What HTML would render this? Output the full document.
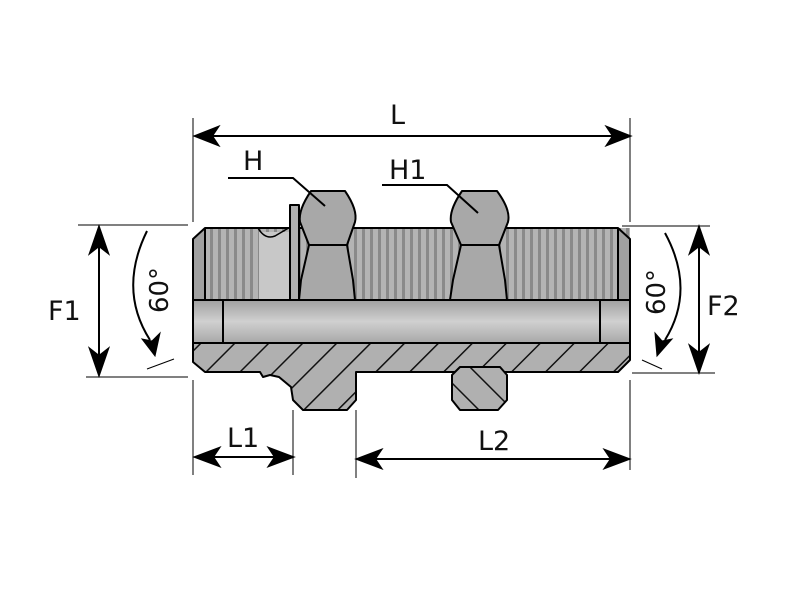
<!DOCTYPE html>
<html><head><meta charset="utf-8"><style>
html,body{margin:0;padding:0;background:#fff;}
svg{display:block;}
text{font-family:"DejaVu Sans","Liberation Sans",sans-serif;fill:#111;}
</style></head><body>
<svg width="800" height="600" viewBox="0 0 800 600" xmlns="http://www.w3.org/2000/svg">
<defs>
<pattern id="thp" width="8" height="10" patternUnits="userSpaceOnUse">
<rect width="8" height="10" fill="#b4b4b4"/><rect x="2" width="3" height="10" fill="#8a8a8a"/>
</pattern>
<pattern id="hatch" width="24" height="24" patternUnits="userSpaceOnUse" patternTransform="rotate(45)">
<rect width="24" height="24" fill="#b0b0b0"/><line x1="0" y1="0" x2="0" y2="24" stroke="#111" stroke-width="3"/>
</pattern>
<pattern id="hatch2" width="24" height="24" patternUnits="userSpaceOnUse" patternTransform="rotate(-45)">
<rect width="24" height="24" fill="#b0b0b0"/><line x1="0" y1="0" x2="0" y2="24" stroke="#111" stroke-width="3"/>
</pattern>
<linearGradient id="bore" x1="0" x2="0" y1="0" y2="1">
<stop offset="0" stop-color="#a0a0a0"/><stop offset="0.5" stop-color="#d0d0d0"/><stop offset="1" stop-color="#a8a8a8"/>
</linearGradient>
</defs>
<g stroke="#000" stroke-width="2" stroke-linejoin="round">
<rect x="205" y="228" width="425" height="72" fill="url(#thp)" stroke="none"/>
<polygon points="205,228 193,239 193,300 205,300" fill="#a0a0a0"/>
<polygon points="618,228 630,239 630,300 618,300" fill="#a0a0a0"/>
<line x1="205" y1="228" x2="618" y2="228"/>
<line x1="205" y1="228" x2="205" y2="300" stroke-width="1.5"/>
<line x1="618" y1="228" x2="618" y2="300" stroke-width="1.5"/>
<rect x="259" y="232" width="34" height="68" fill="#c8c8c8" stroke="none"/>
<path d="M258,228 Q265,240 275,236 L292,226 L292,300" fill="none" stroke-width="1.5"/>
<rect x="290" y="205" width="9" height="95" fill="#b0b0b0"/>
<rect x="193" y="300" width="437" height="43" fill="url(#bore)"/>
<line x1="223" y1="300" x2="223" y2="343"/>
<line x1="600" y1="300" x2="600" y2="343"/>
<path d="M193,343 L630,343 L630,360 L618,372 L507,372 L507,372 L452,372 L356,372 L356,400 L347,410 L303,410 L293,400 L291,387 L279,377 L270,375 L263,377 L260,372 L205,372 L193,362 Z" fill="url(#hatch)"/>
<polygon points="460,367 500,367 507,375 507,400 498,410 460,410 452,400 452,375" fill="url(#hatch2)"/>
<g fill="#a8a8a8">
<path d="M311,191 L345,191 Q358,210 355,222 L347,245 L309,245 L300,222 Q298,210 311,191 Z"/>
<path d="M309,245 L347,245 L353,280 L355,300 L299,300 L301,280 Z"/>
<path d="M462,191 L497,191 Q511,210 508,222 L499,245 L461,245 L451,222 Q449,210 462,191 Z"/>
<path d="M461,245 L499,245 L505,280 L507,300 L450,300 L453,280 Z"/>
</g>
</g>
<g stroke="#000" fill="none">
<line x1="193" y1="118" x2="193" y2="222" stroke-width="1"/>
<line x1="193" y1="380" x2="193" y2="475" stroke-width="1"/>
<line x1="630" y1="118" x2="630" y2="222" stroke-width="1"/>
<line x1="630" y1="380" x2="630" y2="470" stroke-width="1"/>
<line x1="293" y1="410" x2="293" y2="475" stroke-width="1"/>
<line x1="356" y1="410" x2="356" y2="478" stroke-width="1"/>
<line x1="78" y1="225" x2="188" y2="225" stroke-width="1"/>
<line x1="86" y1="377" x2="188" y2="377" stroke-width="1"/>
<line x1="622" y1="226" x2="710" y2="226" stroke-width="1"/>
<line x1="632" y1="373" x2="715" y2="373" stroke-width="1"/>
<g stroke-width="2">
<line x1="212" y1="136" x2="614" y2="136"/>
<path d="M195,136 L218,127 L212,136 L218,145 Z" fill="#000"/>
<path d="M630,136 L607,127 L613,136 L607,145 Z" fill="#000"/>
<line x1="99" y1="240" x2="99" y2="362"/>
<path d="M99,227 L90,253 L99,246 L108,253 Z" fill="#000"/>
<path d="M99,375 L90,349 L99,356 L108,349 Z" fill="#000"/>
<line x1="699" y1="240" x2="699" y2="360"/>
<path d="M699,227 L690,253 L699,246 L708,253 Z" fill="#000"/>
<path d="M699,372 L690,346 L699,353 L708,346 Z" fill="#000"/>
<line x1="210" y1="457" x2="278" y2="457"/>
<path d="M195,457 L219,448 L213,457 L219,466 Z" fill="#000"/>
<path d="M293,457 L269,448 L275,457 L269,466 Z" fill="#000"/>
<line x1="372" y1="459" x2="614" y2="459"/>
<path d="M357,459 L381,450 L375,459 L381,468 Z" fill="#000"/>
<path d="M629,459 L605,450 L611,459 L605,468 Z" fill="#000"/>
<path d="M147,231 Q118,290 150,340" />
<path d="M665,233 Q696,290 665,340" />
</g>
<path d="M155,356 L160,333 L152,341 L142,339 Z" fill="#000"/>
<path d="M657,356 L672,339 L662,341 L655,333 Z" fill="#000"/>
<line x1="147" y1="369" x2="174" y2="359" stroke-width="1"/>
<line x1="642" y1="360" x2="662" y2="369" stroke-width="1"/>
<polyline points="228,178 293,178 325,206" stroke-width="2"/>
<polyline points="382,185 447,185 478,213" stroke-width="2"/>
</g>
<text x="390" y="124" font-size="27">L</text>
<text x="243" y="170" font-size="27">H</text>
<text x="389" y="179" font-size="27">H1</text>
<text x="48" y="320" font-size="27">F1</text>
<text x="707" y="315" font-size="27">F2</text>
<text x="227" y="447" font-size="27">L1</text>
<text x="478" y="450" font-size="27">L2</text>
<text transform="translate(168,290) rotate(-90)" font-size="26" text-anchor="middle">60°</text>
<text transform="translate(665,292) rotate(-90)" font-size="26" text-anchor="middle">60°</text>
</svg>
</body></html>
